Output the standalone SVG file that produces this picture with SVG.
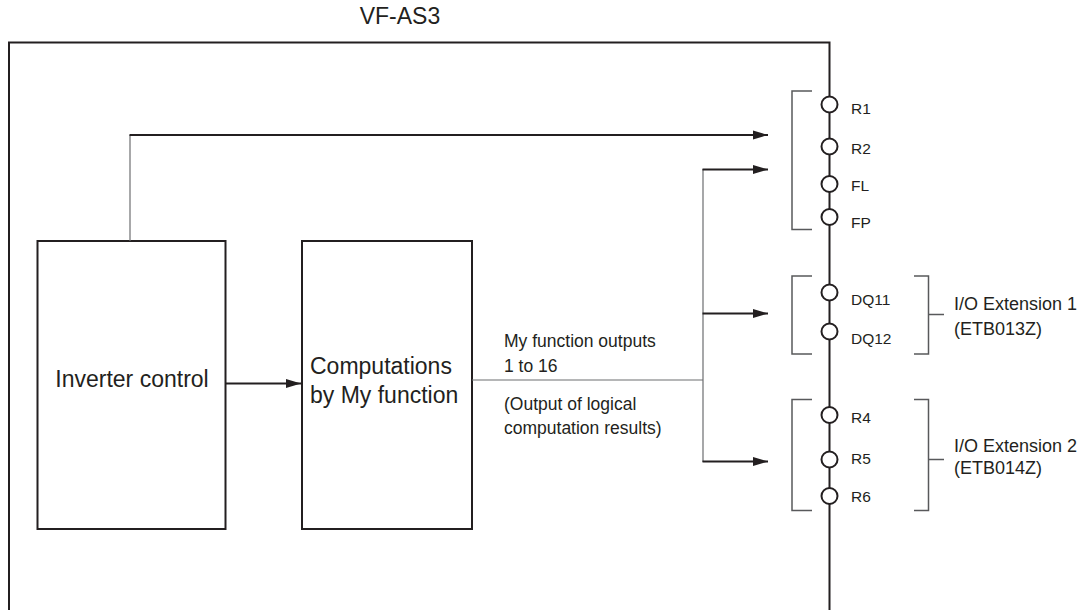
<svg xmlns="http://www.w3.org/2000/svg" width="1087" height="610" viewBox="0 0 1087 610">
<defs>
<marker id="ah" markerUnits="userSpaceOnUse" markerWidth="16" markerHeight="10" refX="15" refY="5" orient="auto">
<path d="M0,0.5 L15,5 L0,9.5 Z" fill="#231f20"/>
</marker>
</defs>
<style>
text{font-family:"Liberation Sans",Arial,sans-serif;fill:#231f20}
.big{font-size:23px}
.mid{font-size:17.5px}
.sm{font-size:15.5px}
.ext{font-size:18px}
.box{fill:#fff;stroke:#231f20;stroke-width:2}
.thin{stroke:#6d6e71;stroke-width:1.2;fill:none}
.arr{stroke:#231f20;stroke-width:2.2;fill:none;marker-end:url(#ah)}
.brk{stroke:#58595b;stroke-width:1.5;fill:none}
.term{fill:#fff;stroke:#231f20;stroke-width:2}
</style>
<rect width="1087" height="610" fill="#fff"/>
<g id="vfas3">
<text class="big" x="400" y="24" text-anchor="middle">VF-AS3</text>
<path d="M9,610 V42.5 H829.5 V610" fill="none" stroke="#231f20" stroke-width="2"/>
</g>
<g id="inverter-control">
<rect class="box" x="37.5" y="241" width="188" height="288"/>
<text class="big" x="132" y="387" text-anchor="middle">Inverter control</text>
</g>
<g id="computations">
<rect class="box" x="302" y="241" width="170" height="288"/>
<text class="big" x="310" y="374">Computations</text>
<text class="big" x="310" y="403">by My function</text>
</g>
<g id="connectors">
<path class="thin" d="M130,241 V135"/>
<path class="arr" d="M129.5,135 H768"/>
<path class="arr" d="M226,383.5 H301"/>
<path class="thin" d="M472,380 H703 M703,169 V462"/>
<path class="arr" d="M702.5,169.5 H768"/>
<path class="arr" d="M702.5,313.5 H768"/>
<path class="arr" d="M702.5,461.5 H768"/>
</g>
<g id="output-label">
<text class="mid" x="504" y="347">My function outputs</text>
<text class="mid" x="504" y="372">1 to 16</text>
<text class="mid" x="504" y="410">(Output of logical</text>
<text class="mid" x="504" y="434">computation results)</text>
</g>
<g id="relay-terminals">
<path class="brk" d="M812,91 H792 V229.5 H812"/>
<circle class="term" cx="829.5" cy="104.5" r="8"/>
<circle class="term" cx="829.5" cy="146.5" r="8"/>
<circle class="term" cx="829.5" cy="184" r="8"/>
<circle class="term" cx="829.5" cy="217" r="8"/>
<text class="sm" x="851" y="114">R1</text>
<text class="sm" x="851" y="154">R2</text>
<text class="sm" x="851" y="191">FL</text>
<text class="sm" x="851" y="227.5">FP</text>
</g>
<g id="io-extension-1">
<path class="brk" d="M812,276 H792 V354 H812"/>
<path class="brk" d="M914,276 H928.5 V354 H914 M928.5,314.5 H944"/>
<circle class="term" cx="829.5" cy="292.5" r="8"/>
<circle class="term" cx="829.5" cy="331.5" r="8"/>
<text class="sm" x="851" y="305">DQ11</text>
<text class="sm" x="851" y="344">DQ12</text>
<text class="ext" x="954" y="310">I/O Extension 1</text>
<text class="ext" x="954" y="335">(ETB013Z)</text>
</g>
<g id="io-extension-2">
<path class="brk" d="M812,399.5 H792 V510.5 H812"/>
<path class="brk" d="M914,399.5 H928.5 V510.5 H914 M928.5,459.5 H944"/>
<circle class="term" cx="829.5" cy="415" r="8"/>
<circle class="term" cx="829.5" cy="459.5" r="8"/>
<circle class="term" cx="829.5" cy="496" r="8"/>
<text class="sm" x="851" y="423">R4</text>
<text class="sm" x="851" y="464">R5</text>
<text class="sm" x="851" y="501.5">R6</text>
<text class="ext" x="954" y="451.5">I/O Extension 2</text>
<text class="ext" x="954" y="473.5">(ETB014Z)</text>
</g>
</svg>
